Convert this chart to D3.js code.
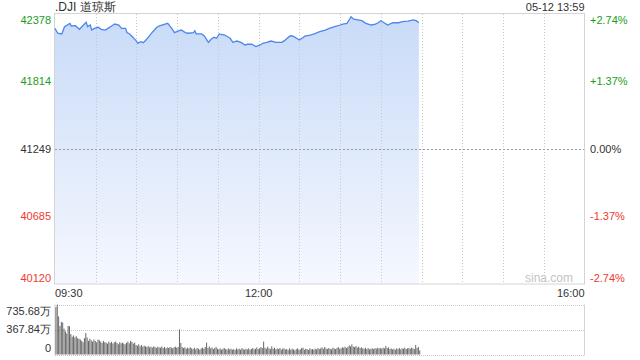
<!DOCTYPE html>
<html>
<head>
<meta charset="utf-8">
<script src="https://cdn.jsdelivr.net/npm/d3@7"></script>
<style>
  html, body { margin: 0; padding: 0; background: #fff; }
  svg { display: block; font-family: "Liberation Sans", Arial, sans-serif; }
</style>
</head>
<body>
<svg id="chart" width="640" height="360"></svg>
<script>
// minutes after 09:30 and index level
const minutes = [0, 2, 5, 7, 11, 12, 15, 18, 21, 23, 24, 26, 27, 29, 32, 34, 37, 39, 42, 44, 47, 49, 52, 53, 55, 57, 60, 61, 63, 65, 67, 70, 72, 75, 77, 81, 83, 86, 88, 91, 93, 96, 98, 102, 103, 104, 108, 110, 113, 115, 117, 119, 121, 125, 129, 131, 134, 137, 140, 142, 145, 148, 151, 153, 156, 159, 163, 167, 169, 173, 175, 178, 180, 183, 184, 188, 191, 195, 199, 202, 206, 210, 212, 215, 217, 218, 220, 223, 226, 229, 233, 236, 238, 240, 243, 245, 249, 253, 256, 260, 264, 266, 268];
const prices = [42258, 42217, 42211, 42272, 42300, 42278, 42280, 42250, 42286, 42309, 42272, 42286, 42244, 42258, 42267, 42250, 42244, 42258, 42280, 42294, 42286, 42258, 42258, 42222, 42211, 42188, 42152, 42133, 42146, 42138, 42161, 42202, 42230, 42267, 42278, 42294, 42300, 42258, 42222, 42236, 42244, 42222, 42217, 42222, 42238, 42211, 42211, 42194, 42141, 42166, 42183, 42175, 42211, 42202, 42175, 42141, 42152, 42141, 42119, 42125, 42125, 42105, 42119, 42133, 42141, 42152, 42141, 42141, 42155, 42194, 42194, 42175, 42161, 42183, 42194, 42202, 42211, 42230, 42244, 42258, 42272, 42286, 42294, 42300, 42334, 42355, 42334, 42328, 42322, 42300, 42286, 42294, 42305, 42322, 42300, 42286, 42305, 42305, 42314, 42319, 42328, 42322, 42305];

// per-minute volume, in 万
const volumes = [
  700, 735, 560, 420, 480, 470, 380, 340, 310, 420,
  415, 300, 260, 280, 250, 270, 240, 230, 220, 200,
  180, 240, 315, 250, 200, 230, 210, 190, 220, 200,
  180, 220, 210, 190, 170, 200, 180, 175, 160, 190,
  170, 185, 160, 180, 190, 170, 150, 180, 165, 175,
  160, 150, 170, 190, 165, 200, 185, 160, 175, 140,
  130, 150, 120, 140, 115, 130, 120, 110, 125, 105,
  115, 100, 120, 110, 95, 115, 105, 100, 120, 95,
  110, 90, 105, 95, 110, 100, 90, 105, 115, 100,
  110, 370, 170, 110, 95, 105, 85, 100, 90, 105,
  90, 80, 100, 75, 95, 85, 70, 90, 100, 85,
  110, 175, 95, 120, 90, 105, 80, 95, 110, 85,
  75, 90, 70, 85, 95, 80, 70, 90, 75, 85,
  70, 80, 65, 90, 75, 85, 70, 95, 80, 70,
  85, 75, 90, 70, 80, 95, 75, 85, 105, 80,
  90, 110, 95, 190, 100, 85, 115, 90, 80, 120,
  85, 100, 75, 90, 80, 95, 70, 85, 90, 75,
  80, 65, 90, 70, 85, 75, 60, 80, 90, 70,
  75, 95, 100, 70, 85, 80, 65, 90, 75, 80,
  70, 85, 75, 95, 80, 90, 105, 85, 110, 90,
  80, 95, 85, 75, 100, 90, 80, 95, 110, 85,
  90, 105, 100, 115, 95, 110, 135, 120, 150, 115,
  110, 125, 100, 115, 95, 105, 90, 85, 100, 80,
  95, 75, 85, 90, 80, 95, 85, 100, 90, 95,
  85, 100, 90, 125, 95, 105, 80, 90, 75, 85,
  70, 90, 80, 95, 75, 90, 85, 100, 80, 90,
  95, 85, 100, 90, 80, 140, 95, 110, 60
];

const priceTicks = [42378, 41814, 41249, 40685, 40120];
const pctTicks = ["+2.74%", "+1.37%", "0.00%", "-1.37%", "-2.74%"];
const volTicks = [735.68, 367.84, 0];
const timeTicks = [{m: 0, t: "09:30"}, {m: 150, t: "12:00"}, {m: 390, t: "16:00"}];

const title = ".DJI 道琼斯";
const stamp = "05-12 13:59";
const prevClose = 41249;

const padL = 55, padR = 584.5, padT = 14, padB = 284;
const vTop = 304.5, vBottom = 354.5;
const green = "#1a9e1a", red = "#f03a2e", ink = "#333";

const svg = d3.select("#chart");

const x = d3.scaleLinear().domain([0, 390]).range([padL, padR]);
const y = d3.scaleLinear().domain([40120, 42378]).range([padB, padT]);
const yv = d3.scaleLinear().domain([0, 735.68]).range([vBottom, vTop]);

// gradient under the line
const defs = svg.append("defs");
const grad = defs.append("linearGradient")
    .attr("id", "fillGrad")
    .attr("x1", 0).attr("y1", 0).attr("x2", 0).attr("y2", 1);
grad.append("stop").attr("offset", "0%").attr("stop-color", "#c9dbf8");
grad.append("stop").attr("offset", "100%").attr("stop-color", "#f5f8fe");

const pts = minutes.map((m, i) => [m, prices[i]]);

// area
const area = d3.area()
    .x(d => x(d[0]))
    .y0(padB)
    .y1(d => y(d[1]));
svg.append("path")
    .datum(pts)
    .attr("d", area)
    .attr("fill", "url(#fillGrad)");

// vertical grid every 30 minutes
const gridMins = d3.range(30, 390, 30);
svg.selectAll(".vgrid")
    .data(gridMins)
    .enter().append("line")
    .attr("x1", d => Math.round(x(d)) + 0.5)
    .attr("x2", d => Math.round(x(d)) + 0.5)
    .attr("y1", padT).attr("y2", padB)
    .attr("stroke", "#c8c8c8")
    .attr("stroke-dasharray", "1,2");

// previous close line
svg.append("line")
    .attr("x1", padL).attr("x2", padR)
    .attr("y1", Math.round(y(prevClose)) + 0.5)
    .attr("y2", Math.round(y(prevClose)) + 0.5)
    .attr("stroke", "#999")
    .attr("stroke-dasharray", "2,2");

// frame of price panel
svg.append("rect")
    .attr("x", padL - 0.5).attr("y", padT - 0.5)
    .attr("width", padR - padL + 0.5).attr("height", padB - padT + 0.5)
    .attr("fill", "none")
    .attr("stroke", "#d4d4d4");

// line
const line = d3.line()
    .x(d => x(d[0]))
    .y(d => y(d[1]));
svg.append("path")
    .datum(pts)
    .attr("d", line)
    .attr("fill", "none")
    .attr("stroke", "#4d86ea")
    .attr("stroke-width", 1.3);

// price labels left
const lblY = [20, null, null, null, 278];
svg.selectAll(".pl")
    .data(priceTicks)
    .enter().append("text")
    .attr("x", 51)
    .attr("y", (d, i) => (lblY[i] != null ? lblY[i] : y(d)))
    .attr("dy", "0.35em")
    .attr("text-anchor", "end")
    .attr("font-size", 11)
    .attr("fill", d => d > prevClose ? green : (d < prevClose ? red : ink))
    .text(d => d);

svg.selectAll(".pr")
    .data(pctTicks)
    .enter().append("text")
    .attr("x", 590)
    .attr("y", (d, i) => (lblY[i] != null ? lblY[i] : y(priceTicks[i])))
    .attr("dy", "0.35em")
    .attr("font-size", 11)
    .attr("fill", (d, i) => i < 2 ? green : (i > 2 ? red : ink))
    .text(d => d);

// title and timestamp
svg.append("text")
    .attr("x", padL).attr("y", 11)
    .attr("font-size", 12)
    .attr("fill", ink)
    .text(title);
svg.append("text")
    .attr("x", padR).attr("y", 11)
    .attr("text-anchor", "end")
    .attr("font-size", 11)
    .attr("fill", ink)
    .text(stamp);

// watermark
svg.append("text")
    .attr("x", 573).attr("y", 282)
    .attr("text-anchor", "end")
    .attr("font-size", 12)
    .attr("fill", "#c4c4c4")
    .text("sina.com");

// time labels
svg.selectAll(".tl")
    .data(timeTicks)
    .enter().append("text")
    .attr("x", d => x(d.m))
    .attr("y", 297)
    .attr("text-anchor", (d, i) => i === 0 ? "start" : (i === timeTicks.length - 1 ? "end" : "middle"))
    .attr("font-size", 11)
    .attr("fill", ink)
    .text(d => d.t);

// volume panel
svg.selectAll(".vg")
    .data(volTicks)
    .enter().append("line")
    .attr("x1", padL).attr("x2", padR)
    .attr("y1", d => Math.round(yv(d)) + 0.5)
    .attr("y2", d => Math.round(yv(d)) + 0.5)
    .attr("stroke", "#c8c8c8")
    .attr("stroke-dasharray", "1,1");
svg.append("line")
    .attr("x1", padR).attr("x2", padR)
    .attr("y1", vTop).attr("y2", vBottom + 1)
    .attr("stroke", "#d4d4d4");
svg.append("line")
    .attr("x1", padL - 0.5).attr("x2", padL - 0.5)
    .attr("y1", vTop).attr("y2", vBottom + 1)
    .attr("stroke", "#d4d4d4")
    .attr("stroke-dasharray", "1,1");

svg.selectAll(".vb")
    .data(volumes)
    .enter().append("rect")
    .attr("x", (d, i) => x(i) + 0.4)
    .attr("y", d => yv(d))
    .attr("width", 1)
    .attr("height", d => vBottom - yv(d))
    .attr("fill", "#666");

svg.selectAll(".vl")
    .data(volTicks)
    .enter().append("text")
    .attr("x", 51)
    .attr("y", (d, i) => i === 0 ? 311 : (i === 2 ? 348 : yv(d)))
    .attr("dy", "0.35em")
    .attr("text-anchor", "end")
    .attr("font-size", 11)
    .attr("fill", ink)
    .text(d => d === 0 ? "0" : d.toFixed(2) + "万");
</script>
</body>
</html>
